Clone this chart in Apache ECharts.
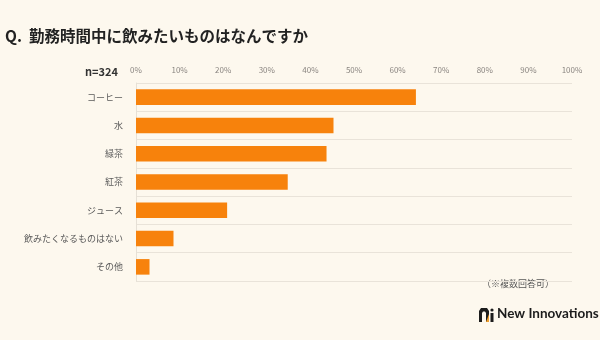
<!DOCTYPE html>
<html>
<head>
<meta charset="utf-8">
<script src="https://cdn.jsdelivr.net/npm/echarts@6/dist/echarts.min.js"></script>
<style>
html,body{margin:0;padding:0;background:#fdf8ee;}
#chart{width:600px;height:340px;}
</style>
</head>
<body>
<div id="chart"></div>
<script>
// 勤務時間中に飲みたいもの（複数回答, n=324）
const categories = ['コーヒー', '水', '緑茶', '紅茶', 'ジュース', '飲みたくなるものはない', 'その他'];
const shares = [64.2, 45.3, 43.7, 34.8, 20.9, 8.6, 3.1];
const tickValues = [0, 10, 20, 30, 40, 50, 60, 70, 80, 90, 100];

const fontCJK = '"Noto Sans CJK JP", "Noto Sans", sans-serif';
const chart = echarts.init(document.getElementById('chart'));

chart.setOption({
  backgroundColor: '#fdf8ee',
  animation: false,
  grid: { left: 136, right: 28, top: 83, bottom: 59 },
  title: {
    text: 'Q.  勤務時間中に飲みたいものはなんですか',
    left: 0, top: 23,
    textStyle: { fontFamily: fontCJK, fontSize: 15.5, fontWeight: 'bold', color: '#222' }
  },
  xAxis: {
    type: 'value', position: 'top',
    min: tickValues[0], max: tickValues[tickValues.length - 1], interval: 10,
    axisLine: { show: false }, axisTick: { show: false },
    splitLine: { show: false },
    axisLabel: {
      formatter: v => v + '%', color: '#8a8580', fontSize: 8, margin: 9,
      fontFamily: fontCJK
    }
  },
  yAxis: {
    type: 'category', data: categories, inverse: true,
    axisLine: { show: true, lineStyle: { color: '#e6e0d6' } },
    axisTick: { show: false },
    splitLine: { show: true, lineStyle: { color: '#e9e3d9', width: 1 } },
    axisLabel: { color: '#5a5a5a', fontSize: 9, margin: 13, fontFamily: fontCJK }
  },
  series: [{
    type: 'bar', data: shares, barWidth: '55%',
    itemStyle: { color: '#f7820c' }
  }],
  graphic: [
    { type: 'text', left: 85, top: 66,
      style: { text: 'n=324', fontSize: 11, fontWeight: 'bold', fill: '#333', fontFamily: fontCJK } },
    { type: 'rect', left: 481, top: 279, shape: { width: 72, height: 12 }, style: { fill: '#fdf8ee' } },
    { type: 'text', left: 482, top: 279,
      style: { text: '（※複数回答可）', fontSize: 9, fill: '#555', fontFamily: fontCJK } },
    // logo mark
    { type: 'polygon', left: 479, top: 308,
      shape: { points: [[0, 14], [0, 3], [2, 0], [8, 0], [10, 3], [10, 14], [7, 14], [7, 5], [6, 3.5], [4, 3.5], [3, 5], [3, 14]] },
      style: { fill: '#1c1c1c' } },
    { type: 'polygon', left: 486, top: 314,
      shape: { points: [[0, 8], [3, 8], [3, 0]] }, style: { fill: '#f0a030' } },
    { type: 'rect', left: 490.5, top: 313, shape: { width: 3, height: 9 }, style: { fill: '#1c1c1c' } },
    { type: 'circle', left: 490.4, top: 308.4, shape: { r: 1.6 }, style: { fill: '#1c1c1c' } },
    { type: 'text', left: 497, top: 307,
      style: { text: 'New Innovations', fontSize: 13.5, fontWeight: 'bold', fill: '#1c1c1c',
        fontFamily: '"Lato", "Noto Sans", sans-serif' } }
  ]
});
</script>
</body>
</html>
